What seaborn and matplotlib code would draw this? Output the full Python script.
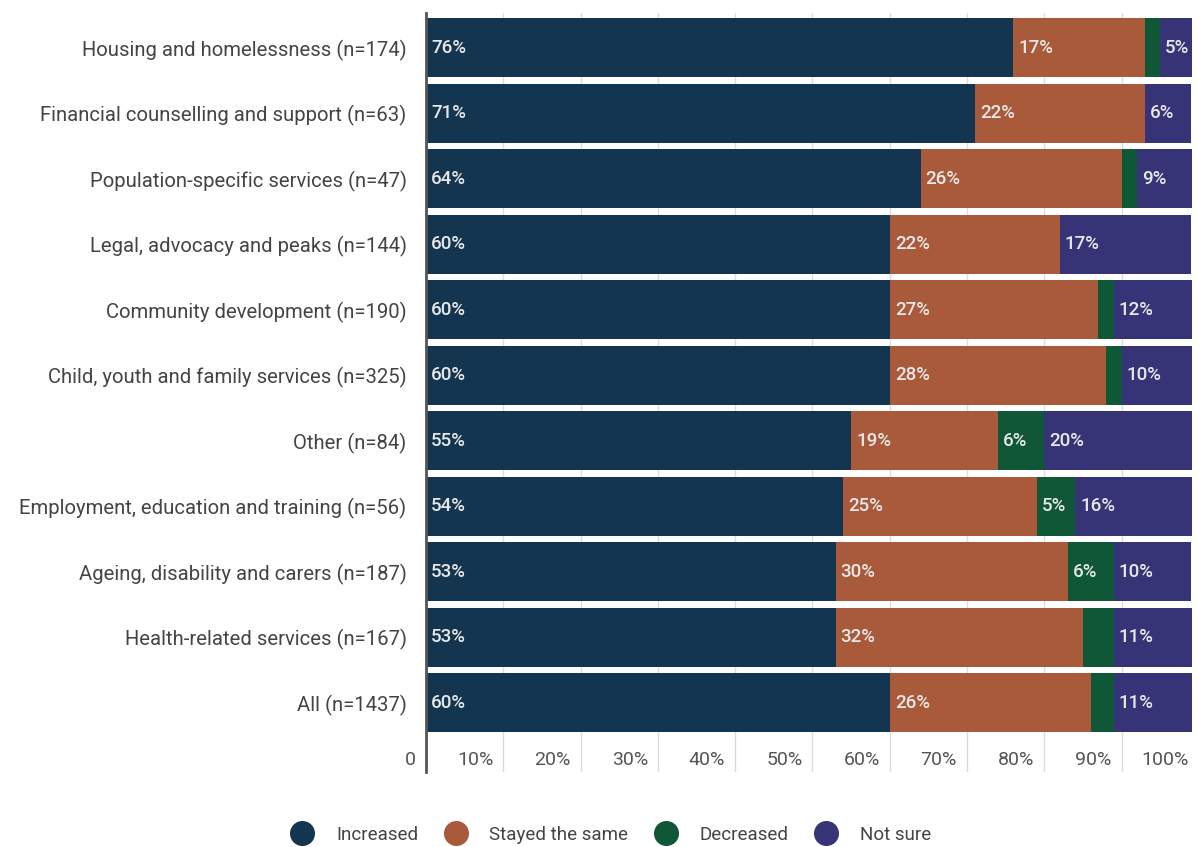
import matplotlib
matplotlib.use("Agg")
import matplotlib.pyplot as plt
from matplotlib.lines import Line2D
import numpy as np
import pandas as pd
import seaborn as sns

# Share of organisations reporting each change in demand, by service type (%)
categories = [
    "Housing and homelessness (n=174)",
    "Financial counselling and support (n=63)",
    "Population-specific services (n=47)",
    "Legal, advocacy and peaks (n=144)",
    "Community development (n=190)",
    "Child, youth and family services (n=325)",
    "Other (n=84)",
    "Employment, education and training (n=56)",
    "Ageing, disability and carers (n=187)",
    "Health-related services (n=167)",
    "All (n=1437)",
]
increased = [76, 71, 64, 60, 60, 60, 55, 54, 53, 53, 60]
stayed_same = [17, 22, 26, 22, 27, 28, 19, 25, 30, 32, 26]
decreased = [2, 0, 2, 0, 2, 2, 6, 5, 6, 4, 3]
not_sure = [5, 6, 9, 17, 12, 10, 20, 16, 10, 11, 11]

series_names = ["Increased", "Stayed the same", "Decreased", "Not sure"]
series_values = [increased, stayed_same, decreased, not_sure]
series_colors = ["#14354f", "#a85a3a", "#0f5737", "#363477"]
x_ticks = [0, 10, 20, 30, 40, 50, 60, 70, 80, 90, 100]
x_tick_labels = ["0", "10%", "20%", "30%", "40%", "50%", "60%", "70%", "80%", "90%", "100%"]

sns.set_theme(style="white")
plt.rcParams["font.family"] = ["Roboto", "DejaVu Sans"]

df = pd.DataFrame({"category": categories})
for name, vals in zip(series_names, series_values):
    df[name] = vals
starts = df[series_names].cumsum(axis=1) - df[series_names]
ends = df[series_names].cumsum(axis=1)

W, H = 1198, 847
fig = plt.figure(figsize=(W / 100, H / 100), dpi=100)
ax_left, ax_right, ax_top, ax_bottom = 426, 1192, 12.7, 771.7
ax = fig.add_axes([ax_left / W, 1 - ax_bottom / H,
                   (ax_right - ax_left) / W, (ax_bottom - ax_top) / H])

# Stacked bars: draw the running totals from the last segment backwards
for name, color in reversed(list(zip(series_names, series_colors))):
    sns.barplot(data=ends, x=name, y=df["category"], color=color,
                orient="h", width=0.9, linewidth=0, saturation=1, ax=ax)

ax.set_xlim(0, 99.1)
ax.set_ylim(11.05, -0.536)
ax.set_xlabel("")
ax.set_ylabel("")

# Vertical gridlines behind the bars
ax.set_axisbelow(True)
for xv in x_ticks[1:]:
    ax.axvline(xv, color="#dcdcdc", linewidth=1, zorder=0)
ax.set_xticks([])
ax.tick_params(axis="y", length=0, pad=14, labelsize=14.6, labelcolor="#444444")

for side in ["top", "right", "bottom"]:
    ax.spines[side].set_visible(False)
ax.spines["left"].set_color("#555555")
ax.spines["left"].set_linewidth(2)
ax.spines["left"].set_zorder(5)

# x tick labels sit just left of their gridline
for xv, lab in zip(x_ticks, x_tick_labels):
    ax.annotate(lab, xy=(xv, (ax_bottom - 760) / (ax_bottom - ax_top)),
                xycoords=("data", "axes fraction"),
                xytext=(-10, 0), textcoords="offset pixels",
                ha="right", va="center", fontsize=14, color="#555555",
                annotation_clip=False)

# Value labels inside segments of 5% or more
for i in range(len(categories)):
    for name in series_names:
        v = df.loc[i, name]
        if v >= 5:
            ax.annotate(f"{v}%", xy=(starts.loc[i, name], i),
                        xytext=(5, 0), textcoords="offset pixels",
                        ha="left", va="center", fontsize=13.5,
                        fontweight="medium", color="#e8e8e8", zorder=6)

handles = [Line2D([0], [0], marker="o", linestyle="none", markersize=17,
                  markerfacecolor=c, markeredgecolor=c) for c in series_colors]
fig.legend(handles, series_names, loc="center", bbox_to_anchor=(0.507, 12 / H),
           ncol=4, frameon=False, fontsize=13.5, handletextpad=0.8,
           columnspacing=1.0, labelcolor="#444444")

fig.savefig("out.png", dpi=100)
